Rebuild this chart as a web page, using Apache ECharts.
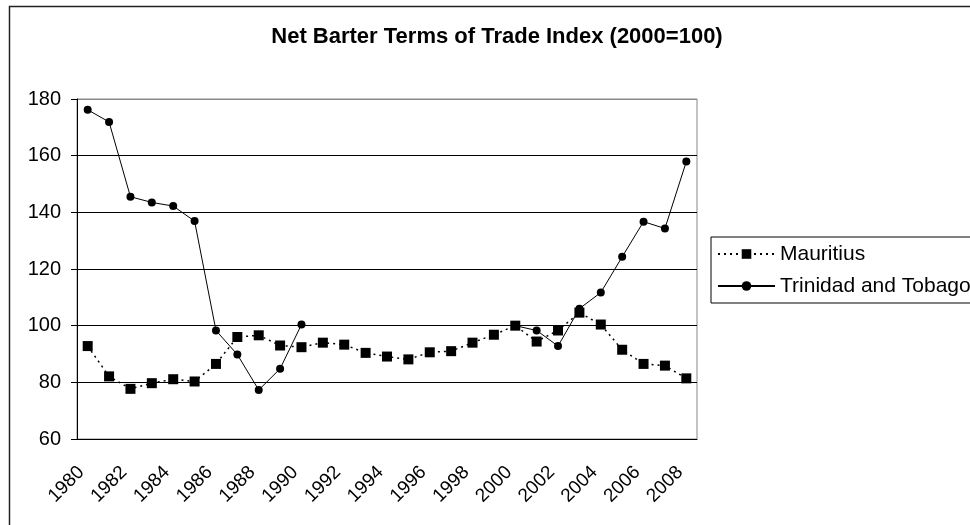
<!DOCTYPE html>
<html>
<head>
<meta charset="utf-8">
<script src="https://cdn.jsdelivr.net/npm/echarts@6/dist/echarts.min.js"></script>
<style>
  html, body { margin: 0; padding: 0; background: #fff; }
  #chart { width: 970px; height: 525px; }
</style>
</head>
<body>
<div id="chart"></div>
<script>
// Net barter terms of trade, index with 2000 = 100
const years = ['1980','1981','1982','1983','1984','1985','1986','1987','1988','1989',
               '1990','1991','1992','1993','1994','1995','1996','1997','1998','1999',
               '2000','2001','2002','2003','2004','2005','2006','2007','2008'];
const mauritius = [92.8, 82.1, 77.7, 79.7, 81.1, 80.3, 86.5, 96.0, 96.6, 93.0,
                   92.4, 94.0, 93.3, 90.4, 89.1, 88.1, 90.6, 91.0, 94.0, 96.8,
                   100, 94.4, 98.3, 104.6, 100.4, 91.5, 86.5, 85.9, 81.4];
const trinidad = [176.2, 171.9, 145.5, 143.5, 142.2, 136.9, 98.3, 89.8, 77.3, 84.8,
                  100.4, null, null, null, null, null, null, null, null, null,
                  100, 98.3, 92.8, 106.0, 111.7, 124.3, 136.7, 134.3, 157.9];
const yTicks = { min: 60, max: 180, step: 20 };

const font = '"Liberation Sans", Arial, sans-serif';
const chart = echarts.init(document.getElementById('chart'), null, { renderer: 'canvas' });

chart.setOption({
  backgroundColor: '#fff',
  animation: false,
  graphic: [{
    type: 'rect',
    shape: { x: 9.5, y: 6.5, width: 1000, height: 600 },
    style: { fill: 'none', stroke: '#222', lineWidth: 1.5 },
    silent: true
  }],
  title: {
    text: 'Net Barter Terms of Trade Index (2000=100)',
    left: 492, top: 21, textAlign: 'center',
    textStyle: { fontFamily: font, fontSize: 22, fontWeight: 'bold', color: '#000' }
  },
  legend: {
    orient: 'vertical',
    left: 711, top: 237,
    padding: [6, 60, 6, 6],
    itemWidth: 57, itemHeight: 12, itemGap: 10,
    borderColor: '#000', borderWidth: 1,
    textStyle: { fontFamily: font, fontSize: 21, color: '#000', lineHeight: 22 },
    data: ['Mauritius', 'Trinidad and Tobago']
  },
  grid: {
    left: 77, right: 273, top: 99, bottom: 86,
    show: true, borderColor: '#888', borderWidth: 1, backgroundColor: '#fff'
  },
  xAxis: {
    type: 'category',
    data: years,
    boundaryGap: true,
    axisLine: { lineStyle: { color: '#000', width: 1 } },
    axisTick: { interval: 0, length: 7, lineStyle: { color: '#000' } },
    axisLabel: {
      interval: 1, rotate: 45, margin: 24, padding: [0, 9, 0, 0],
      fontFamily: font, fontSize: 19, color: '#000'
    },
    splitLine: { show: false }
  },
  yAxis: {
    type: 'value',
    min: yTicks.min, max: yTicks.max, interval: yTicks.step,
    axisLine: { show: true, lineStyle: { color: '#000', width: 1 } },
    axisTick: { show: true, length: 6, lineStyle: { color: '#000' } },
    axisLabel: { margin: 16, fontFamily: font, fontSize: 20, color: '#000' },
    splitLine: {
      show: true,
      lineStyle: { color: ['#000', '#000', '#000', '#000', '#000', '#000', '#888'], width: 1 }
    }
  },
  series: [
    {
      name: 'Mauritius',
      type: 'line',
      data: mauritius,
      symbol: 'rect', symbolSize: 10,
      itemStyle: { color: '#000' },
      lineStyle: { color: '#000', width: 1.5, type: [2, 4] },
      z: 3
    },
    {
      name: 'Trinidad and Tobago',
      type: 'line',
      data: trinidad,
      connectNulls: false,
      symbol: 'circle', symbolSize: 8,
      itemStyle: { color: '#000' },
      lineStyle: { color: '#000', width: 1 },
      z: 4
    }
  ]
});
</script>
</body>
</html>
